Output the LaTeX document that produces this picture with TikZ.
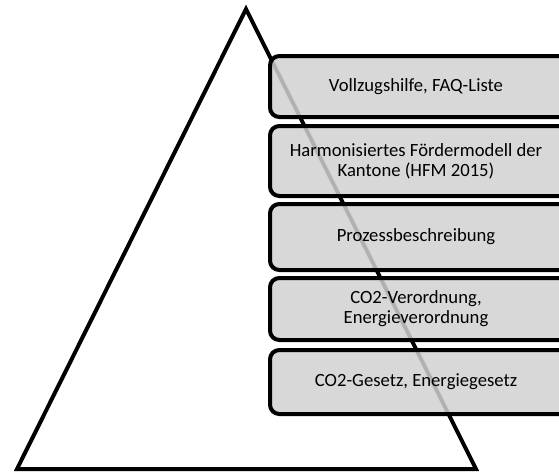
\documentclass[tikz,border=0pt]{standalone}
\usepackage{fontspec}
\setmainfont{Carlito}
\usetikzlibrary{positioning}

\tikzset{
  levelbox/.style={draw, line width=3pt, rounded corners=7pt, fill=black!18,
    fill opacity=0.85},
  level/.style={align=center, font=\fontsize{14}{15}\selectfont}
}

\begin{document}
\begin{tikzpicture}[x=0.75pt,y=-0.75pt]
            \useasboundingbox (0,0) rectangle (559,471);
            % pyramid behind the stacked levels
            \coordinate (apex) at (246,9);
            \coordinate (baseL) at (17,469);
            \coordinate (baseR) at (476,469);
            \draw[line width=3pt] (apex) -- (baseR) -- (baseL) -- cycle;

            % levels, running out past the right edge
            \draw[levelbox] (270,56) rectangle (590,117);
            \draw[levelbox] (270,126) rectangle (590,196);
            \draw[levelbox] (270,204) rectangle (590,270);
            \draw[levelbox] (270,278) rectangle (590,340);
            \draw[levelbox] (270,350) rectangle (590,414);

            \node[level] (faq) at (416,87) {Vollzugshilfe, FAQ-Liste};
            \node[level] (hfm) at (416,161) {Harmonisiertes Fördermodell der\\Kantone (HFM 2015)};
            \node[level] (prozess) at (416,237) {Prozessbeschreibung};
            \node[level] (verordnung) at (416,309) {CO2-Verordnung,\\Energieverordnung};
            \node[level] (gesetz) at (416,382) {CO2-Gesetz, Energiegesetz};
        \end{tikzpicture}
\end{document}
